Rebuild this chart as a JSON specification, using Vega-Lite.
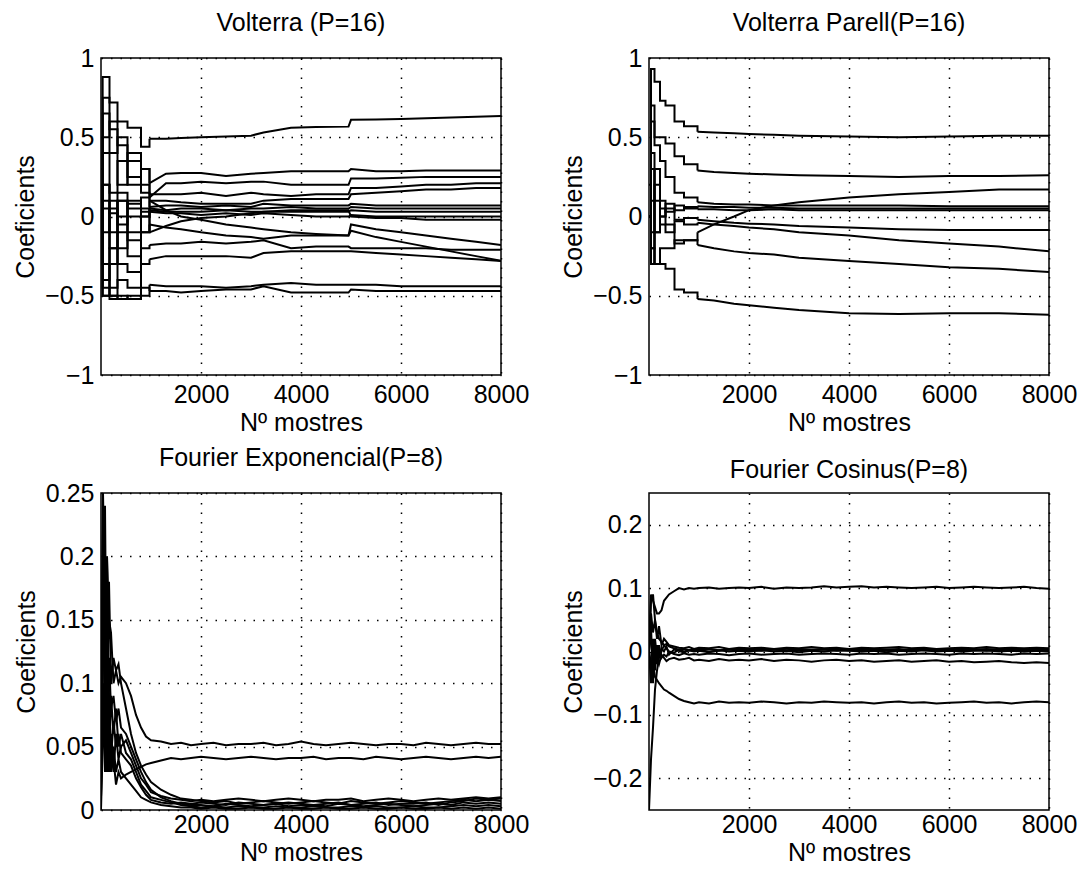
{
"$schema": "https://vega.github.io/schema/vega-lite/v6.json",
"background": "white",
"padding": {"left": 12, "top": 10, "right": 0, "bottom": 0},
"config": {
  "font": "Liberation Sans",
  "view": {"stroke": "black", "strokeWidth": 1.5},
  "axis": {"labelFontSize": 25, "titleFontSize": 25, "labelColor": "black", "titleColor": "black", "titleFontWeight": "normal", "domain": false, "ticks": false, "grid": true, "gridColor": "black", "gridDash": [1.5, 8], "gridWidth": 1.5, "gridOpacity": 1, "labelPadding": 7, "labelFlush": false, "labelOverlap": false},
  "axisY": {"titlePadding": 6},
  "axisX": {"titlePadding": 3},
  "title": {"fontSize": 25, "fontWeight": "normal", "color": "black", "offset": 10},
  "line": {"color": "black", "strokeWidth": 2}
},
"datasets": {
"tl": [
{"s":"a","x":0,"y":0.30},{"s":"a","x":33,"y":0.88},{"s":"a","x":170,"y":0.72},{"s":"a","x":330,"y":0.60},{"s":"a","x":530,"y":0.56},{"s":"a","x":800,"y":0.44},{"s":"a","x":970,"y":0.49},{"s":"a","x":1300,"y":0.49},{"s":"a","x":1600,"y":0.495},{"s":"a","x":2000,"y":0.50},{"s":"a","x":2500,"y":0.505},{"s":"a","x":3000,"y":0.51},{"s":"a","x":3250,"y":0.53},{"s":"a","x":3800,"y":0.56},{"s":"a","x":4300,"y":0.565},{"s":"a","x":4950,"y":0.567},{"s":"a","x":5000,"y":0.61},{"s":"a","x":5500,"y":0.612},{"s":"a","x":6000,"y":0.615},{"s":"a","x":6500,"y":0.62},{"s":"a","x":7000,"y":0.625},{"s":"a","x":7500,"y":0.63},{"s":"a","x":8000,"y":0.634},
{"s":"b","x":0,"y":0.0},{"s":"b","x":33,"y":0.65},{"s":"b","x":170,"y":0.55},{"s":"b","x":330,"y":0.45},{"s":"b","x":530,"y":0.35},{"s":"b","x":800,"y":0.30},{"s":"b","x":970,"y":0.21},{"s":"b","x":1300,"y":0.27},{"s":"b","x":1600,"y":0.275},{"s":"b","x":2000,"y":0.275},{"s":"b","x":2500,"y":0.255},{"s":"b","x":3000,"y":0.27},{"s":"b","x":3250,"y":0.275},{"s":"b","x":3800,"y":0.285},{"s":"b","x":4300,"y":0.285},{"s":"b","x":4950,"y":0.285},{"s":"b","x":5000,"y":0.30},{"s":"b","x":5500,"y":0.285},{"s":"b","x":6000,"y":0.285},{"s":"b","x":6500,"y":0.29},{"s":"b","x":7000,"y":0.29},{"s":"b","x":7500,"y":0.29},{"s":"b","x":8000,"y":0.29},
{"s":"c","x":0,"y":0.10},{"s":"c","x":33,"y":0.75},{"s":"c","x":170,"y":0.40},{"s":"c","x":330,"y":0.50},{"s":"c","x":530,"y":0.25},{"s":"c","x":800,"y":0.20},{"s":"c","x":970,"y":0.12},{"s":"c","x":1300,"y":0.21},{"s":"c","x":1600,"y":0.21},{"s":"c","x":2000,"y":0.22},{"s":"c","x":2500,"y":0.21},{"s":"c","x":3000,"y":0.22},{"s":"c","x":3250,"y":0.22},{"s":"c","x":3800,"y":0.20},{"s":"c","x":4300,"y":0.20},{"s":"c","x":4950,"y":0.20},{"s":"c","x":5000,"y":0.24},{"s":"c","x":5500,"y":0.24},{"s":"c","x":6000,"y":0.245},{"s":"c","x":6500,"y":0.25},{"s":"c","x":7000,"y":0.25},{"s":"c","x":7500,"y":0.25},{"s":"c","x":8000,"y":0.25},
{"s":"d","x":0,"y":0.0},{"s":"d","x":33,"y":0.50},{"s":"d","x":170,"y":0.60},{"s":"d","x":330,"y":0.20},{"s":"d","x":530,"y":0.40},{"s":"d","x":800,"y":0.15},{"s":"d","x":970,"y":0.14},{"s":"d","x":1300,"y":0.14},{"s":"d","x":1600,"y":0.14},{"s":"d","x":2000,"y":0.15},{"s":"d","x":2500,"y":0.13},{"s":"d","x":3000,"y":0.15},{"s":"d","x":3250,"y":0.14},{"s":"d","x":3800,"y":0.13},{"s":"d","x":4300,"y":0.14},{"s":"d","x":4950,"y":0.14},{"s":"d","x":5000,"y":0.18},{"s":"d","x":5500,"y":0.18},{"s":"d","x":6000,"y":0.19},{"s":"d","x":6500,"y":0.20},{"s":"d","x":7000,"y":0.20},{"s":"d","x":7500,"y":0.21},{"s":"d","x":8000,"y":0.21},
{"s":"e","x":0,"y":0.0},{"s":"e","x":33,"y":0.40},{"s":"e","x":170,"y":0.15},{"s":"e","x":330,"y":0.35},{"s":"e","x":530,"y":0.20},{"s":"e","x":800,"y":0.30},{"s":"e","x":970,"y":0.10},{"s":"e","x":1300,"y":0.10},{"s":"e","x":1600,"y":0.09},{"s":"e","x":2000,"y":0.08},{"s":"e","x":2500,"y":0.08},{"s":"e","x":3000,"y":0.08},{"s":"e","x":3250,"y":0.10},{"s":"e","x":3800,"y":0.11},{"s":"e","x":4300,"y":0.11},{"s":"e","x":4950,"y":0.11},{"s":"e","x":5000,"y":0.14},{"s":"e","x":5500,"y":0.15},{"s":"e","x":6000,"y":0.16},{"s":"e","x":6500,"y":0.17},{"s":"e","x":7000,"y":0.17},{"s":"e","x":7500,"y":0.18},{"s":"e","x":8000,"y":0.18},
{"s":"f","x":0,"y":0.0},{"s":"f","x":33,"y":0.20},{"s":"f","x":170,"y":-0.10},{"s":"f","x":330,"y":0.15},{"s":"f","x":530,"y":0.05},{"s":"f","x":800,"y":0.12},{"s":"f","x":970,"y":0.06},{"s":"f","x":1300,"y":0.07},{"s":"f","x":1600,"y":0.07},{"s":"f","x":2000,"y":0.06},{"s":"f","x":2500,"y":0.07},{"s":"f","x":3000,"y":0.06},{"s":"f","x":3250,"y":0.08},{"s":"f","x":3800,"y":0.07},{"s":"f","x":4300,"y":0.07},{"s":"f","x":4950,"y":0.07},{"s":"f","x":5000,"y":0.08},{"s":"f","x":5500,"y":0.07},{"s":"f","x":6000,"y":0.07},{"s":"f","x":6500,"y":0.07},{"s":"f","x":7000,"y":0.07},{"s":"f","x":7500,"y":0.07},{"s":"f","x":8000,"y":0.07},
{"s":"g","x":0,"y":0.0},{"s":"g","x":33,"y":-0.10},{"s":"g","x":170,"y":0.05},{"s":"g","x":330,"y":0.0},{"s":"g","x":530,"y":0.10},{"s":"g","x":800,"y":0.03},{"s":"g","x":970,"y":0.05},{"s":"g","x":1300,"y":0.04},{"s":"g","x":1600,"y":0.05},{"s":"g","x":2000,"y":0.05},{"s":"g","x":2500,"y":0.04},{"s":"g","x":3000,"y":0.05},{"s":"g","x":3250,"y":0.05},{"s":"g","x":3800,"y":0.06},{"s":"g","x":4300,"y":0.05},{"s":"g","x":4950,"y":0.05},{"s":"g","x":5000,"y":0.06},{"s":"g","x":5500,"y":0.05},{"s":"g","x":6000,"y":0.05},{"s":"g","x":6500,"y":0.05},{"s":"g","x":7000,"y":0.05},{"s":"g","x":7500,"y":0.05},{"s":"g","x":8000,"y":0.05},
{"s":"h","x":0,"y":0.0},{"s":"h","x":33,"y":0.10},{"s":"h","x":170,"y":0.02},{"s":"h","x":330,"y":-0.05},{"s":"h","x":530,"y":0.08},{"s":"h","x":800,"y":0.0},{"s":"h","x":970,"y":0.04},{"s":"h","x":1300,"y":0.03},{"s":"h","x":1600,"y":0.03},{"s":"h","x":2000,"y":0.03},{"s":"h","x":2500,"y":0.04},{"s":"h","x":3000,"y":0.03},{"s":"h","x":3250,"y":0.03},{"s":"h","x":3800,"y":0.03},{"s":"h","x":4300,"y":0.03},{"s":"h","x":4950,"y":0.03},{"s":"h","x":5000,"y":0.04},{"s":"h","x":5500,"y":0.03},{"s":"h","x":6000,"y":0.03},{"s":"h","x":6500,"y":0.03},{"s":"h","x":7000,"y":0.03},{"s":"h","x":7500,"y":0.03},{"s":"h","x":8000,"y":0.03},
{"s":"i","x":0,"y":0.0},{"s":"i","x":33,"y":-0.30},{"s":"i","x":170,"y":0.10},{"s":"i","x":330,"y":-0.20},{"s":"i","x":530,"y":0.0},{"s":"i","x":800,"y":-0.10},{"s":"i","x":970,"y":0.03},{"s":"i","x":1300,"y":0.02},{"s":"i","x":1600,"y":0.02},{"s":"i","x":2000,"y":0.01},{"s":"i","x":2500,"y":0.02},{"s":"i","x":3000,"y":0.01},{"s":"i","x":3250,"y":0.02},{"s":"i","x":3800,"y":0.01},{"s":"i","x":4300,"y":0.0},{"s":"i","x":4950,"y":0.0},{"s":"i","x":5000,"y":0.01},{"s":"i","x":5500,"y":0.0},{"s":"i","x":6000,"y":0.0},{"s":"i","x":6500,"y":0.0},{"s":"i","x":7000,"y":0.0},{"s":"i","x":7500,"y":0.0},{"s":"i","x":8000,"y":0.0},
{"s":"j","x":0,"y":0.0},{"s":"j","x":33,"y":0.05},{"s":"j","x":170,"y":-0.20},{"s":"j","x":330,"y":0.10},{"s":"j","x":530,"y":-0.10},{"s":"j","x":800,"y":0.05},{"s":"j","x":970,"y":-0.10},{"s":"j","x":1300,"y":-0.06},{"s":"j","x":1600,"y":-0.03},{"s":"j","x":2000,"y":-0.01},{"s":"j","x":2500,"y":0.0},{"s":"j","x":3000,"y":0.02},{"s":"j","x":3250,"y":0.03},{"s":"j","x":3800,"y":0.04},{"s":"j","x":4300,"y":0.04},{"s":"j","x":4950,"y":0.04},{"s":"j","x":5000,"y":0.0},{"s":"j","x":5500,"y":-0.01},{"s":"j","x":6000,"y":-0.01},{"s":"j","x":6500,"y":-0.02},{"s":"j","x":7000,"y":-0.02},{"s":"j","x":7500,"y":-0.02},{"s":"j","x":8000,"y":-0.02},
{"s":"k","x":0,"y":0.0},{"s":"k","x":33,"y":-0.40},{"s":"k","x":170,"y":-0.30},{"s":"k","x":330,"y":0.10},{"s":"k","x":530,"y":-0.15},{"s":"k","x":800,"y":0.0},{"s":"k","x":970,"y":0.10},{"s":"k","x":1300,"y":0.04},{"s":"k","x":1600,"y":0.0},{"s":"k","x":2000,"y":-0.02},{"s":"k","x":2500,"y":-0.05},{"s":"k","x":3000,"y":-0.07},{"s":"k","x":3250,"y":-0.08},{"s":"k","x":3800,"y":-0.10},{"s":"k","x":4300,"y":-0.11},{"s":"k","x":4950,"y":-0.12},{"s":"k","x":5000,"y":-0.05},{"s":"k","x":5500,"y":-0.08},{"s":"k","x":6000,"y":-0.10},{"s":"k","x":6500,"y":-0.12},{"s":"k","x":7000,"y":-0.14},{"s":"k","x":7500,"y":-0.16},{"s":"k","x":8000,"y":-0.18},
{"s":"l","x":0,"y":0.0},{"s":"l","x":33,"y":-0.50},{"s":"l","x":170,"y":-0.20},{"s":"l","x":330,"y":-0.30},{"s":"l","x":530,"y":-0.35},{"s":"l","x":800,"y":-0.10},{"s":"l","x":970,"y":-0.05},{"s":"l","x":1300,"y":-0.07},{"s":"l","x":1600,"y":-0.08},{"s":"l","x":2000,"y":-0.10},{"s":"l","x":2500,"y":-0.12},{"s":"l","x":3000,"y":-0.13},{"s":"l","x":3250,"y":-0.14},{"s":"l","x":3800,"y":-0.12},{"s":"l","x":4300,"y":-0.12},{"s":"l","x":4950,"y":-0.12},{"s":"l","x":5000,"y":-0.09},{"s":"l","x":5500,"y":-0.13},{"s":"l","x":6000,"y":-0.16},{"s":"l","x":6500,"y":-0.19},{"s":"l","x":7000,"y":-0.22},{"s":"l","x":7500,"y":-0.25},{"s":"l","x":8000,"y":-0.28},
{"s":"m","x":0,"y":0.0},{"s":"m","x":33,"y":0.20},{"s":"m","x":170,"y":-0.45},{"s":"m","x":330,"y":-0.10},{"s":"m","x":530,"y":-0.25},{"s":"m","x":800,"y":-0.20},{"s":"m","x":970,"y":-0.18},{"s":"m","x":1300,"y":-0.17},{"s":"m","x":1600,"y":-0.17},{"s":"m","x":2000,"y":-0.16},{"s":"m","x":2500,"y":-0.17},{"s":"m","x":3000,"y":-0.16},{"s":"m","x":3250,"y":-0.15},{"s":"m","x":3800,"y":-0.20},{"s":"m","x":4300,"y":-0.19},{"s":"m","x":4950,"y":-0.19},{"s":"m","x":5000,"y":-0.20},{"s":"m","x":5500,"y":-0.20},{"s":"m","x":6000,"y":-0.20},{"s":"m","x":6500,"y":-0.20},{"s":"m","x":7000,"y":-0.21},{"s":"m","x":7500,"y":-0.21},{"s":"m","x":8000,"y":-0.21},
{"s":"n","x":0,"y":0.0},{"s":"n","x":33,"y":-0.45},{"s":"n","x":170,"y":-0.50},{"s":"n","x":330,"y":-0.40},{"s":"n","x":530,"y":-0.45},{"s":"n","x":800,"y":-0.30},{"s":"n","x":970,"y":-0.27},{"s":"n","x":1300,"y":-0.25},{"s":"n","x":1600,"y":-0.25},{"s":"n","x":2000,"y":-0.25},{"s":"n","x":2500,"y":-0.25},{"s":"n","x":3000,"y":-0.26},{"s":"n","x":3250,"y":-0.23},{"s":"n","x":3800,"y":-0.22},{"s":"n","x":4300,"y":-0.22},{"s":"n","x":4950,"y":-0.22},{"s":"n","x":5000,"y":-0.22},{"s":"n","x":5500,"y":-0.23},{"s":"n","x":6000,"y":-0.24},{"s":"n","x":6500,"y":-0.25},{"s":"n","x":7000,"y":-0.26},{"s":"n","x":7500,"y":-0.27},{"s":"n","x":8000,"y":-0.28},
{"s":"o","x":0,"y":0.0},{"s":"o","x":33,"y":-0.50},{"s":"o","x":170,"y":-0.50},{"s":"o","x":330,"y":-0.52},{"s":"o","x":530,"y":-0.50},{"s":"o","x":800,"y":-0.50},{"s":"o","x":970,"y":-0.43},{"s":"o","x":1300,"y":-0.44},{"s":"o","x":1600,"y":-0.44},{"s":"o","x":2000,"y":-0.44},{"s":"o","x":2500,"y":-0.45},{"s":"o","x":3000,"y":-0.44},{"s":"o","x":3250,"y":-0.43},{"s":"o","x":3800,"y":-0.42},{"s":"o","x":4300,"y":-0.43},{"s":"o","x":4950,"y":-0.43},{"s":"o","x":5000,"y":-0.43},{"s":"o","x":5500,"y":-0.43},{"s":"o","x":6000,"y":-0.44},{"s":"o","x":6500,"y":-0.44},{"s":"o","x":7000,"y":-0.44},{"s":"o","x":7500,"y":-0.44},{"s":"o","x":8000,"y":-0.44},
{"s":"p","x":0,"y":0.0},{"s":"p","x":33,"y":-0.30},{"s":"p","x":170,"y":-0.52},{"s":"p","x":330,"y":-0.50},{"s":"p","x":530,"y":-0.52},{"s":"p","x":800,"y":-0.45},{"s":"p","x":970,"y":-0.47},{"s":"p","x":1300,"y":-0.47},{"s":"p","x":1600,"y":-0.48},{"s":"p","x":2000,"y":-0.47},{"s":"p","x":2500,"y":-0.46},{"s":"p","x":3000,"y":-0.46},{"s":"p","x":3250,"y":-0.44},{"s":"p","x":3800,"y":-0.48},{"s":"p","x":4300,"y":-0.48},{"s":"p","x":4950,"y":-0.48},{"s":"p","x":5000,"y":-0.46},{"s":"p","x":5500,"y":-0.47},{"s":"p","x":6000,"y":-0.47},{"s":"p","x":6500,"y":-0.47},{"s":"p","x":7000,"y":-0.47},{"s":"p","x":7500,"y":-0.47},{"s":"p","x":8000,"y":-0.47}
],
"tr": [
{"s":"t1","x":0,"y":0.2},{"s":"t1","x":40,"y":0.93},{"s":"t1","x":110,"y":0.85},{"s":"t1","x":220,"y":0.73},{"s":"t1","x":330,"y":0.70},{"s":"t1","x":510,"y":0.60},{"s":"t1","x":700,"y":0.57},{"s":"t1","x":970,"y":0.535},{"s":"t1","x":1300,"y":0.53},{"s":"t1","x":1700,"y":0.525},{"s":"t1","x":2000,"y":0.52},{"s":"t1","x":2500,"y":0.515},{"s":"t1","x":3000,"y":0.51},{"s":"t1","x":4000,"y":0.505},{"s":"t1","x":5000,"y":0.50},{"s":"t1","x":6000,"y":0.505},{"s":"t1","x":7000,"y":0.51},{"s":"t1","x":8000,"y":0.51},
{"s":"t2","x":0,"y":0.0},{"s":"t2","x":40,"y":0.7},{"s":"t2","x":110,"y":0.5},{"s":"t2","x":220,"y":0.5},{"s":"t2","x":330,"y":0.46},{"s":"t2","x":510,"y":0.38},{"s":"t2","x":700,"y":0.33},{"s":"t2","x":970,"y":0.29},{"s":"t2","x":1300,"y":0.28},{"s":"t2","x":1700,"y":0.275},{"s":"t2","x":2000,"y":0.27},{"s":"t2","x":2500,"y":0.265},{"s":"t2","x":3000,"y":0.26},{"s":"t2","x":4000,"y":0.255},{"s":"t2","x":5000,"y":0.25},{"s":"t2","x":6000,"y":0.255},{"s":"t2","x":7000,"y":0.255},{"s":"t2","x":8000,"y":0.26},
{"s":"t3","x":0,"y":0.0},{"s":"t3","x":40,"y":0.6},{"s":"t3","x":110,"y":0.45},{"s":"t3","x":220,"y":0.35},{"s":"t3","x":330,"y":0.25},{"s":"t3","x":510,"y":0.15},{"s":"t3","x":700,"y":0.12},{"s":"t3","x":970,"y":0.09},{"s":"t3","x":1300,"y":0.08},{"s":"t3","x":1700,"y":0.075},{"s":"t3","x":2000,"y":0.075},{"s":"t3","x":2500,"y":0.07},{"s":"t3","x":3000,"y":0.07},{"s":"t3","x":4000,"y":0.07},{"s":"t3","x":5000,"y":0.07},{"s":"t3","x":6000,"y":0.065},{"s":"t3","x":7000,"y":0.065},{"s":"t3","x":8000,"y":0.065},
{"s":"t4","x":0,"y":0.0},{"s":"t4","x":40,"y":-0.1},{"s":"t4","x":110,"y":0.3},{"s":"t4","x":220,"y":0.05},{"s":"t4","x":330,"y":-0.05},{"s":"t4","x":510,"y":-0.17},{"s":"t4","x":700,"y":-0.15},{"s":"t4","x":970,"y":-0.1},{"s":"t4","x":1300,"y":-0.05},{"s":"t4","x":1700,"y":0.0},{"s":"t4","x":2000,"y":0.04},{"s":"t4","x":2500,"y":0.07},{"s":"t4","x":3000,"y":0.09},{"s":"t4","x":4000,"y":0.12},{"s":"t4","x":5000,"y":0.14},{"s":"t4","x":6000,"y":0.155},{"s":"t4","x":7000,"y":0.17},{"s":"t4","x":8000,"y":0.17},
{"s":"t5","x":0,"y":0.0},{"s":"t5","x":40,"y":0.4},{"s":"t5","x":110,"y":-0.1},{"s":"t5","x":220,"y":0.1},{"s":"t5","x":330,"y":0.03},{"s":"t5","x":510,"y":0.07},{"s":"t5","x":700,"y":0.06},{"s":"t5","x":970,"y":0.065},{"s":"t5","x":1300,"y":0.06},{"s":"t5","x":1700,"y":0.06},{"s":"t5","x":2000,"y":0.055},{"s":"t5","x":2500,"y":0.055},{"s":"t5","x":3000,"y":0.05},{"s":"t5","x":4000,"y":0.05},{"s":"t5","x":5000,"y":0.05},{"s":"t5","x":6000,"y":0.05},{"s":"t5","x":7000,"y":0.05},{"s":"t5","x":8000,"y":0.05},
{"s":"t6","x":0,"y":0.0},{"s":"t6","x":40,"y":-0.2},{"s":"t6","x":110,"y":0.2},{"s":"t6","x":220,"y":0.0},{"s":"t6","x":330,"y":0.08},{"s":"t6","x":510,"y":0.04},{"s":"t6","x":700,"y":0.05},{"s":"t6","x":970,"y":0.045},{"s":"t6","x":1300,"y":0.045},{"s":"t6","x":1700,"y":0.04},{"s":"t6","x":2000,"y":0.04},{"s":"t6","x":2500,"y":0.045},{"s":"t6","x":3000,"y":0.04},{"s":"t6","x":4000,"y":0.04},{"s":"t6","x":5000,"y":0.04},{"s":"t6","x":6000,"y":0.04},{"s":"t6","x":7000,"y":0.04},{"s":"t6","x":8000,"y":0.04},
{"s":"t7","x":0,"y":0.0},{"s":"t7","x":40,"y":0.3},{"s":"t7","x":110,"y":0.1},{"s":"t7","x":220,"y":0.0},{"s":"t7","x":330,"y":0.05},{"s":"t7","x":510,"y":-0.02},{"s":"t7","x":700,"y":-0.01},{"s":"t7","x":970,"y":-0.02},{"s":"t7","x":1300,"y":-0.03},{"s":"t7","x":1700,"y":-0.04},{"s":"t7","x":2000,"y":-0.045},{"s":"t7","x":2500,"y":-0.05},{"s":"t7","x":3000,"y":-0.06},{"s":"t7","x":4000,"y":-0.07},{"s":"t7","x":5000,"y":-0.08},{"s":"t7","x":6000,"y":-0.085},{"s":"t7","x":7000,"y":-0.085},{"s":"t7","x":8000,"y":-0.085},
{"s":"t8","x":0,"y":0.0},{"s":"t8","x":40,"y":-0.3},{"s":"t8","x":110,"y":-0.1},{"s":"t8","x":220,"y":-0.05},{"s":"t8","x":330,"y":-0.1},{"s":"t8","x":510,"y":-0.03},{"s":"t8","x":700,"y":-0.05},{"s":"t8","x":970,"y":-0.04},{"s":"t8","x":1300,"y":-0.05},{"s":"t8","x":1700,"y":-0.06},{"s":"t8","x":2000,"y":-0.07},{"s":"t8","x":2500,"y":-0.08},{"s":"t8","x":3000,"y":-0.1},{"s":"t8","x":4000,"y":-0.12},{"s":"t8","x":5000,"y":-0.15},{"s":"t8","x":6000,"y":-0.17},{"s":"t8","x":7000,"y":-0.19},{"s":"t8","x":8000,"y":-0.22},
{"s":"t9","x":0,"y":0.0},{"s":"t9","x":40,"y":0.1},{"s":"t9","x":110,"y":-0.3},{"s":"t9","x":220,"y":-0.2},{"s":"t9","x":330,"y":-0.2},{"s":"t9","x":510,"y":-0.15},{"s":"t9","x":700,"y":-0.15},{"s":"t9","x":970,"y":-0.18},{"s":"t9","x":1300,"y":-0.2},{"s":"t9","x":1700,"y":-0.22},{"s":"t9","x":2000,"y":-0.23},{"s":"t9","x":2500,"y":-0.24},{"s":"t9","x":3000,"y":-0.26},{"s":"t9","x":4000,"y":-0.28},{"s":"t9","x":5000,"y":-0.3},{"s":"t9","x":6000,"y":-0.32},{"s":"t9","x":7000,"y":-0.33},{"s":"t9","x":8000,"y":-0.35},
{"s":"t10","x":0,"y":0.0},{"s":"t10","x":40,"y":-0.2},{"s":"t10","x":110,"y":-0.3},{"s":"t10","x":220,"y":-0.3},{"s":"t10","x":330,"y":-0.33},{"s":"t10","x":510,"y":-0.46},{"s":"t10","x":700,"y":-0.48},{"s":"t10","x":970,"y":-0.52},{"s":"t10","x":1300,"y":-0.53},{"s":"t10","x":1700,"y":-0.55},{"s":"t10","x":2000,"y":-0.56},{"s":"t10","x":2500,"y":-0.575},{"s":"t10","x":3000,"y":-0.59},{"s":"t10","x":4000,"y":-0.61},{"s":"t10","x":5000,"y":-0.615},{"s":"t10","x":6000,"y":-0.61},{"s":"t10","x":7000,"y":-0.61},{"s":"t10","x":8000,"y":-0.62}
],
"bl": [
{"s":"e1","x":0,"y":0.02},{"s":"e1","x":40,"y":0.25},{"s":"e1","x":80,"y":0.12},{"s":"e1","x":120,"y":0.2},{"s":"e1","x":160,"y":0.15},{"s":"e1","x":200,"y":0.14},{"s":"e1","x":250,"y":0.1},{"s":"e1","x":300,"y":0.11},{"s":"e1","x":350,"y":0.1},{"s":"e1","x":400,"y":0.105},{"s":"e1","x":500,"y":0.1},{"s":"e1","x":600,"y":0.09},{"s":"e1","x":700,"y":0.075},{"s":"e1","x":800,"y":0.065},{"s":"e1","x":900,"y":0.058},{"s":"e1","x":1000,"y":0.055},{"s":"e1","x":1200,"y":0.054},{"s":"e1","x":1400,"y":0.052},{"s":"e1","x":1600,"y":0.053},{"s":"e1","x":1800,"y":0.051},{"s":"e1","x":2000,"y":0.052},{"s":"e1","x":2250,"y":0.053},{"s":"e1","x":2500,"y":0.051},{"s":"e1","x":2750,"y":0.052},{"s":"e1","x":3000,"y":0.052},{"s":"e1","x":3250,"y":0.053},{"s":"e1","x":3500,"y":0.051},{"s":"e1","x":3750,"y":0.052},{"s":"e1","x":4000,"y":0.054},{"s":"e1","x":4250,"y":0.052},{"s":"e1","x":4500,"y":0.051},{"s":"e1","x":4750,"y":0.052},{"s":"e1","x":5000,"y":0.053},{"s":"e1","x":5250,"y":0.052},{"s":"e1","x":5500,"y":0.051},{"s":"e1","x":5750,"y":0.052},{"s":"e1","x":6000,"y":0.052},{"s":"e1","x":6250,"y":0.051},{"s":"e1","x":6500,"y":0.053},{"s":"e1","x":6750,"y":0.052},{"s":"e1","x":7000,"y":0.051},{"s":"e1","x":7250,"y":0.052},{"s":"e1","x":7500,"y":0.053},{"s":"e1","x":7750,"y":0.052},{"s":"e1","x":8000,"y":0.052},
{"s":"e2","x":0,"y":0.0},{"s":"e2","x":40,"y":0.2},{"s":"e2","x":80,"y":0.05},{"s":"e2","x":120,"y":0.1},{"s":"e2","x":160,"y":0.03},{"s":"e2","x":200,"y":0.06},{"s":"e2","x":250,"y":0.04},{"s":"e2","x":300,"y":0.02},{"s":"e2","x":350,"y":0.03},{"s":"e2","x":400,"y":0.025},{"s":"e2","x":500,"y":0.028},{"s":"e2","x":600,"y":0.03},{"s":"e2","x":700,"y":0.032},{"s":"e2","x":800,"y":0.034},{"s":"e2","x":900,"y":0.036},{"s":"e2","x":1000,"y":0.037},{"s":"e2","x":1200,"y":0.039},{"s":"e2","x":1400,"y":0.041},{"s":"e2","x":1600,"y":0.04},{"s":"e2","x":1800,"y":0.041},{"s":"e2","x":2000,"y":0.042},{"s":"e2","x":2250,"y":0.041},{"s":"e2","x":2500,"y":0.04},{"s":"e2","x":2750,"y":0.041},{"s":"e2","x":3000,"y":0.042},{"s":"e2","x":3250,"y":0.041},{"s":"e2","x":3500,"y":0.04},{"s":"e2","x":3750,"y":0.041},{"s":"e2","x":4000,"y":0.041},{"s":"e2","x":4250,"y":0.042},{"s":"e2","x":4500,"y":0.04},{"s":"e2","x":4750,"y":0.041},{"s":"e2","x":5000,"y":0.041},{"s":"e2","x":5250,"y":0.04},{"s":"e2","x":5500,"y":0.042},{"s":"e2","x":5750,"y":0.041},{"s":"e2","x":6000,"y":0.04},{"s":"e2","x":6250,"y":0.041},{"s":"e2","x":6500,"y":0.042},{"s":"e2","x":6750,"y":0.041},{"s":"e2","x":7000,"y":0.04},{"s":"e2","x":7250,"y":0.041},{"s":"e2","x":7500,"y":0.042},{"s":"e2","x":7750,"y":0.041},{"s":"e2","x":8000,"y":0.042},
{"s":"e3","x":0,"y":0.05},{"s":"e3","x":40,"y":0.22},{"s":"e3","x":80,"y":0.15},{"s":"e3","x":120,"y":0.08},{"s":"e3","x":160,"y":0.18},{"s":"e3","x":200,"y":0.1},{"s":"e3","x":250,"y":0.12},{"s":"e3","x":300,"y":0.11},{"s":"e3","x":350,"y":0.115},{"s":"e3","x":400,"y":0.1},{"s":"e3","x":500,"y":0.08},{"s":"e3","x":600,"y":0.06},{"s":"e3","x":700,"y":0.045},{"s":"e3","x":800,"y":0.035},{"s":"e3","x":900,"y":0.028},{"s":"e3","x":1000,"y":0.022},{"s":"e3","x":1200,"y":0.016},{"s":"e3","x":1400,"y":0.012},{"s":"e3","x":1600,"y":0.009},{"s":"e3","x":1800,"y":0.008},{"s":"e3","x":2000,"y":0.007},{"s":"e3","x":2250,"y":0.006},{"s":"e3","x":2500,"y":0.007},{"s":"e3","x":2750,"y":0.005},{"s":"e3","x":3000,"y":0.006},{"s":"e3","x":3250,"y":0.007},{"s":"e3","x":3500,"y":0.006},{"s":"e3","x":3750,"y":0.005},{"s":"e3","x":4000,"y":0.006},{"s":"e3","x":4250,"y":0.007},{"s":"e3","x":4500,"y":0.006},{"s":"e3","x":4750,"y":0.005},{"s":"e3","x":5000,"y":0.007},{"s":"e3","x":5250,"y":0.006},{"s":"e3","x":5500,"y":0.005},{"s":"e3","x":5750,"y":0.006},{"s":"e3","x":6000,"y":0.007},{"s":"e3","x":6250,"y":0.006},{"s":"e3","x":6500,"y":0.005},{"s":"e3","x":6750,"y":0.006},{"s":"e3","x":7000,"y":0.007},{"s":"e3","x":7250,"y":0.008},{"s":"e3","x":7500,"y":0.007},{"s":"e3","x":7750,"y":0.008},{"s":"e3","x":8000,"y":0.007},
{"s":"e4","x":0,"y":0.03},{"s":"e4","x":40,"y":0.15},{"s":"e4","x":80,"y":0.24},{"s":"e4","x":120,"y":0.05},{"s":"e4","x":160,"y":0.12},{"s":"e4","x":200,"y":0.08},{"s":"e4","x":250,"y":0.09},{"s":"e4","x":300,"y":0.07},{"s":"e4","x":350,"y":0.08},{"s":"e4","x":400,"y":0.065},{"s":"e4","x":500,"y":0.06},{"s":"e4","x":600,"y":0.05},{"s":"e4","x":700,"y":0.04},{"s":"e4","x":800,"y":0.03},{"s":"e4","x":900,"y":0.022},{"s":"e4","x":1000,"y":0.016},{"s":"e4","x":1200,"y":0.01},{"s":"e4","x":1400,"y":0.007},{"s":"e4","x":1600,"y":0.005},{"s":"e4","x":1800,"y":0.004},{"s":"e4","x":2000,"y":0.004},{"s":"e4","x":2250,"y":0.003},{"s":"e4","x":2500,"y":0.005},{"s":"e4","x":2750,"y":0.004},{"s":"e4","x":3000,"y":0.003},{"s":"e4","x":3250,"y":0.004},{"s":"e4","x":3500,"y":0.005},{"s":"e4","x":3750,"y":0.003},{"s":"e4","x":4000,"y":0.004},{"s":"e4","x":4250,"y":0.004},{"s":"e4","x":4500,"y":0.003},{"s":"e4","x":4750,"y":0.005},{"s":"e4","x":5000,"y":0.004},{"s":"e4","x":5250,"y":0.003},{"s":"e4","x":5500,"y":0.004},{"s":"e4","x":5750,"y":0.005},{"s":"e4","x":6000,"y":0.004},{"s":"e4","x":6250,"y":0.003},{"s":"e4","x":6500,"y":0.004},{"s":"e4","x":6750,"y":0.005},{"s":"e4","x":7000,"y":0.004},{"s":"e4","x":7250,"y":0.006},{"s":"e4","x":7500,"y":0.005},{"s":"e4","x":7750,"y":0.006},{"s":"e4","x":8000,"y":0.005},
{"s":"e5","x":0,"y":0.0},{"s":"e5","x":40,"y":0.1},{"s":"e5","x":80,"y":0.06},{"s":"e5","x":120,"y":0.2},{"s":"e5","x":160,"y":0.04},{"s":"e5","x":200,"y":0.09},{"s":"e5","x":250,"y":0.06},{"s":"e5","x":300,"y":0.08},{"s":"e5","x":350,"y":0.05},{"s":"e5","x":400,"y":0.06},{"s":"e5","x":500,"y":0.045},{"s":"e5","x":600,"y":0.04},{"s":"e5","x":700,"y":0.03},{"s":"e5","x":800,"y":0.02},{"s":"e5","x":900,"y":0.015},{"s":"e5","x":1000,"y":0.01},{"s":"e5","x":1200,"y":0.008},{"s":"e5","x":1400,"y":0.006},{"s":"e5","x":1600,"y":0.004},{"s":"e5","x":1800,"y":0.003},{"s":"e5","x":2000,"y":0.002},{"s":"e5","x":2250,"y":0.003},{"s":"e5","x":2500,"y":0.002},{"s":"e5","x":2750,"y":0.003},{"s":"e5","x":3000,"y":0.002},{"s":"e5","x":3250,"y":0.002},{"s":"e5","x":3500,"y":0.003},{"s":"e5","x":3750,"y":0.002},{"s":"e5","x":4000,"y":0.002},{"s":"e5","x":4250,"y":0.003},{"s":"e5","x":4500,"y":0.002},{"s":"e5","x":4750,"y":0.002},{"s":"e5","x":5000,"y":0.003},{"s":"e5","x":5250,"y":0.002},{"s":"e5","x":5500,"y":0.003},{"s":"e5","x":5750,"y":0.002},{"s":"e5","x":6000,"y":0.002},{"s":"e5","x":6250,"y":0.003},{"s":"e5","x":6500,"y":0.002},{"s":"e5","x":6750,"y":0.002},{"s":"e5","x":7000,"y":0.003},{"s":"e5","x":7250,"y":0.004},{"s":"e5","x":7500,"y":0.003},{"s":"e5","x":7750,"y":0.004},{"s":"e5","x":8000,"y":0.003},
{"s":"e6","x":0,"y":0.04},{"s":"e6","x":40,"y":0.18},{"s":"e6","x":80,"y":0.08},{"s":"e6","x":120,"y":0.13},{"s":"e6","x":160,"y":0.06},{"s":"e6","x":200,"y":0.04},{"s":"e6","x":250,"y":0.07},{"s":"e6","x":300,"y":0.05},{"s":"e6","x":350,"y":0.06},{"s":"e6","x":400,"y":0.045},{"s":"e6","x":500,"y":0.04},{"s":"e6","x":600,"y":0.035},{"s":"e6","x":700,"y":0.025},{"s":"e6","x":800,"y":0.018},{"s":"e6","x":900,"y":0.012},{"s":"e6","x":1000,"y":0.008},{"s":"e6","x":1200,"y":0.006},{"s":"e6","x":1400,"y":0.005},{"s":"e6","x":1600,"y":0.006},{"s":"e6","x":1800,"y":0.005},{"s":"e6","x":2000,"y":0.006},{"s":"e6","x":2250,"y":0.005},{"s":"e6","x":2500,"y":0.004},{"s":"e6","x":2750,"y":0.006},{"s":"e6","x":3000,"y":0.005},{"s":"e6","x":3250,"y":0.004},{"s":"e6","x":3500,"y":0.005},{"s":"e6","x":3750,"y":0.006},{"s":"e6","x":4000,"y":0.005},{"s":"e6","x":4250,"y":0.004},{"s":"e6","x":4500,"y":0.005},{"s":"e6","x":4750,"y":0.006},{"s":"e6","x":5000,"y":0.004},{"s":"e6","x":5250,"y":0.005},{"s":"e6","x":5500,"y":0.006},{"s":"e6","x":5750,"y":0.004},{"s":"e6","x":6000,"y":0.005},{"s":"e6","x":6250,"y":0.005},{"s":"e6","x":6500,"y":0.006},{"s":"e6","x":6750,"y":0.004},{"s":"e6","x":7000,"y":0.006},{"s":"e6","x":7250,"y":0.007},{"s":"e6","x":7500,"y":0.009},{"s":"e6","x":7750,"y":0.008},{"s":"e6","x":8000,"y":0.009},
{"s":"e7","x":0,"y":0.01},{"s":"e7","x":40,"y":0.05},{"s":"e7","x":80,"y":0.1},{"s":"e7","x":120,"y":0.03},{"s":"e7","x":160,"y":0.07},{"s":"e7","x":200,"y":0.03},{"s":"e7","x":250,"y":0.05},{"s":"e7","x":300,"y":0.03},{"s":"e7","x":350,"y":0.04},{"s":"e7","x":400,"y":0.03},{"s":"e7","x":500,"y":0.025},{"s":"e7","x":600,"y":0.02},{"s":"e7","x":700,"y":0.015},{"s":"e7","x":800,"y":0.01},{"s":"e7","x":900,"y":0.008},{"s":"e7","x":1000,"y":0.006},{"s":"e7","x":1200,"y":0.004},{"s":"e7","x":1400,"y":0.003},{"s":"e7","x":1600,"y":0.002},{"s":"e7","x":1800,"y":0.002},{"s":"e7","x":2000,"y":0.001},{"s":"e7","x":2250,"y":0.002},{"s":"e7","x":2500,"y":0.001},{"s":"e7","x":2750,"y":0.001},{"s":"e7","x":3000,"y":0.002},{"s":"e7","x":3250,"y":0.001},{"s":"e7","x":3500,"y":0.001},{"s":"e7","x":3750,"y":0.002},{"s":"e7","x":4000,"y":0.001},{"s":"e7","x":4250,"y":0.001},{"s":"e7","x":4500,"y":0.002},{"s":"e7","x":4750,"y":0.001},{"s":"e7","x":5000,"y":0.001},{"s":"e7","x":5250,"y":0.002},{"s":"e7","x":5500,"y":0.001},{"s":"e7","x":5750,"y":0.001},{"s":"e7","x":6000,"y":0.002},{"s":"e7","x":6250,"y":0.001},{"s":"e7","x":6500,"y":0.001},{"s":"e7","x":6750,"y":0.002},{"s":"e7","x":7000,"y":0.001},{"s":"e7","x":7250,"y":0.002},{"s":"e7","x":7500,"y":0.001},{"s":"e7","x":7750,"y":0.002},{"s":"e7","x":8000,"y":0.001},
{"s":"e8","x":0,"y":0.0},{"s":"e8","x":40,"y":0.25},{"s":"e8","x":80,"y":0.03},{"s":"e8","x":120,"y":0.16},{"s":"e8","x":160,"y":0.09},{"s":"e8","x":200,"y":0.05},{"s":"e8","x":250,"y":0.03},{"s":"e8","x":300,"y":0.06},{"s":"e8","x":350,"y":0.04},{"s":"e8","x":400,"y":0.05},{"s":"e8","x":500,"y":0.055},{"s":"e8","x":600,"y":0.045},{"s":"e8","x":700,"y":0.035},{"s":"e8","x":800,"y":0.025},{"s":"e8","x":900,"y":0.02},{"s":"e8","x":1000,"y":0.014},{"s":"e8","x":1200,"y":0.011},{"s":"e8","x":1400,"y":0.009},{"s":"e8","x":1600,"y":0.008},{"s":"e8","x":1800,"y":0.007},{"s":"e8","x":2000,"y":0.008},{"s":"e8","x":2250,"y":0.007},{"s":"e8","x":2500,"y":0.008},{"s":"e8","x":2750,"y":0.009},{"s":"e8","x":3000,"y":0.008},{"s":"e8","x":3250,"y":0.007},{"s":"e8","x":3500,"y":0.008},{"s":"e8","x":3750,"y":0.009},{"s":"e8","x":4000,"y":0.008},{"s":"e8","x":4250,"y":0.007},{"s":"e8","x":4500,"y":0.008},{"s":"e8","x":4750,"y":0.008},{"s":"e8","x":5000,"y":0.009},{"s":"e8","x":5250,"y":0.007},{"s":"e8","x":5500,"y":0.008},{"s":"e8","x":5750,"y":0.009},{"s":"e8","x":6000,"y":0.008},{"s":"e8","x":6250,"y":0.007},{"s":"e8","x":6500,"y":0.008},{"s":"e8","x":6750,"y":0.009},{"s":"e8","x":7000,"y":0.008},{"s":"e8","x":7250,"y":0.009},{"s":"e8","x":7500,"y":0.01},{"s":"e8","x":7750,"y":0.009},{"s":"e8","x":8000,"y":0.01}
],
"br": [
{"s":"c1","x":0,"y":0.0},{"s":"c1","x":40,"y":0.09},{"s":"c1","x":80,"y":0.08},{"s":"c1","x":120,"y":0.07},{"s":"c1","x":160,"y":0.06},{"s":"c1","x":200,"y":0.06},{"s":"c1","x":250,"y":0.065},{"s":"c1","x":300,"y":0.08},{"s":"c1","x":350,"y":0.085},{"s":"c1","x":400,"y":0.09},{"s":"c1","x":500,"y":0.095},{"s":"c1","x":600,"y":0.1},{"s":"c1","x":700,"y":0.098},{"s":"c1","x":800,"y":0.1},{"s":"c1","x":900,"y":0.099},{"s":"c1","x":1000,"y":0.1},{"s":"c1","x":1200,"y":0.101},{"s":"c1","x":1400,"y":0.099},{"s":"c1","x":1600,"y":0.1},{"s":"c1","x":1800,"y":0.101},{"s":"c1","x":2000,"y":0.1},{"s":"c1","x":2250,"y":0.102},{"s":"c1","x":2500,"y":0.099},{"s":"c1","x":2750,"y":0.101},{"s":"c1","x":3000,"y":0.1},{"s":"c1","x":3250,"y":0.101},{"s":"c1","x":3500,"y":0.103},{"s":"c1","x":3750,"y":0.101},{"s":"c1","x":4000,"y":0.102},{"s":"c1","x":4250,"y":0.103},{"s":"c1","x":4500,"y":0.101},{"s":"c1","x":4750,"y":0.102},{"s":"c1","x":5000,"y":0.101},{"s":"c1","x":5250,"y":0.1},{"s":"c1","x":5500,"y":0.101},{"s":"c1","x":5750,"y":0.102},{"s":"c1","x":6000,"y":0.1},{"s":"c1","x":6250,"y":0.101},{"s":"c1","x":6500,"y":0.102},{"s":"c1","x":6750,"y":0.101},{"s":"c1","x":7000,"y":0.1},{"s":"c1","x":7250,"y":0.101},{"s":"c1","x":7500,"y":0.102},{"s":"c1","x":7750,"y":0.1},{"s":"c1","x":8000,"y":0.099},
{"s":"c2","x":0,"y":0.0},{"s":"c2","x":40,"y":0.06},{"s":"c2","x":80,"y":0.03},{"s":"c2","x":120,"y":0.05},{"s":"c2","x":160,"y":0.02},{"s":"c2","x":200,"y":0.04},{"s":"c2","x":250,"y":0.01},{"s":"c2","x":300,"y":0.02},{"s":"c2","x":350,"y":0.015},{"s":"c2","x":400,"y":0.01},{"s":"c2","x":500,"y":0.008},{"s":"c2","x":600,"y":0.006},{"s":"c2","x":700,"y":0.005},{"s":"c2","x":800,"y":0.007},{"s":"c2","x":900,"y":0.004},{"s":"c2","x":1000,"y":0.006},{"s":"c2","x":1200,"y":0.005},{"s":"c2","x":1400,"y":0.007},{"s":"c2","x":1600,"y":0.004},{"s":"c2","x":1800,"y":0.006},{"s":"c2","x":2000,"y":0.005},{"s":"c2","x":2250,"y":0.006},{"s":"c2","x":2500,"y":0.004},{"s":"c2","x":2750,"y":0.006},{"s":"c2","x":3000,"y":0.005},{"s":"c2","x":3250,"y":0.007},{"s":"c2","x":3500,"y":0.005},{"s":"c2","x":3750,"y":0.006},{"s":"c2","x":4000,"y":0.004},{"s":"c2","x":4250,"y":0.006},{"s":"c2","x":4500,"y":0.005},{"s":"c2","x":4750,"y":0.006},{"s":"c2","x":5000,"y":0.007},{"s":"c2","x":5250,"y":0.005},{"s":"c2","x":5500,"y":0.006},{"s":"c2","x":5750,"y":0.004},{"s":"c2","x":6000,"y":0.005},{"s":"c2","x":6250,"y":0.006},{"s":"c2","x":6500,"y":0.005},{"s":"c2","x":6750,"y":0.007},{"s":"c2","x":7000,"y":0.005},{"s":"c2","x":7250,"y":0.006},{"s":"c2","x":7500,"y":0.005},{"s":"c2","x":7750,"y":0.006},{"s":"c2","x":8000,"y":0.005},
{"s":"c3","x":0,"y":0.0},{"s":"c3","x":40,"y":-0.05},{"s":"c3","x":80,"y":0.02},{"s":"c3","x":120,"y":-0.03},{"s":"c3","x":160,"y":0.01},{"s":"c3","x":200,"y":-0.01},{"s":"c3","x":250,"y":0.005},{"s":"c3","x":300,"y":0.0},{"s":"c3","x":350,"y":0.008},{"s":"c3","x":400,"y":-0.005},{"s":"c3","x":500,"y":0.003},{"s":"c3","x":600,"y":0.001},{"s":"c3","x":700,"y":-0.002},{"s":"c3","x":800,"y":0.002},{"s":"c3","x":900,"y":0.0},{"s":"c3","x":1000,"y":0.001},{"s":"c3","x":1200,"y":-0.001},{"s":"c3","x":1400,"y":0.002},{"s":"c3","x":1600,"y":0.0},{"s":"c3","x":1800,"y":0.001},{"s":"c3","x":2000,"y":0.0},{"s":"c3","x":2250,"y":0.002},{"s":"c3","x":2500,"y":0.0},{"s":"c3","x":2750,"y":0.001},{"s":"c3","x":3000,"y":-0.001},{"s":"c3","x":3250,"y":0.001},{"s":"c3","x":3500,"y":0.0},{"s":"c3","x":3750,"y":0.002},{"s":"c3","x":4000,"y":0.001},{"s":"c3","x":4250,"y":0.0},{"s":"c3","x":4500,"y":0.001},{"s":"c3","x":4750,"y":-0.001},{"s":"c3","x":5000,"y":0.001},{"s":"c3","x":5250,"y":0.0},{"s":"c3","x":5500,"y":0.002},{"s":"c3","x":5750,"y":0.0},{"s":"c3","x":6000,"y":0.001},{"s":"c3","x":6250,"y":0.0},{"s":"c3","x":6500,"y":0.001},{"s":"c3","x":6750,"y":0.002},{"s":"c3","x":7000,"y":0.0},{"s":"c3","x":7250,"y":0.001},{"s":"c3","x":7500,"y":0.0},{"s":"c3","x":7750,"y":0.001},{"s":"c3","x":8000,"y":0.0},
{"s":"c4","x":0,"y":0.0},{"s":"c4","x":40,"y":0.04},{"s":"c4","x":80,"y":-0.05},{"s":"c4","x":120,"y":0.0},{"s":"c4","x":160,"y":-0.02},{"s":"c4","x":200,"y":0.01},{"s":"c4","x":250,"y":-0.01},{"s":"c4","x":300,"y":-0.005},{"s":"c4","x":350,"y":-0.008},{"s":"c4","x":400,"y":0.0},{"s":"c4","x":500,"y":-0.004},{"s":"c4","x":600,"y":-0.006},{"s":"c4","x":700,"y":-0.003},{"s":"c4","x":800,"y":-0.005},{"s":"c4","x":900,"y":-0.004},{"s":"c4","x":1000,"y":-0.005},{"s":"c4","x":1200,"y":-0.003},{"s":"c4","x":1400,"y":-0.004},{"s":"c4","x":1600,"y":-0.006},{"s":"c4","x":1800,"y":-0.004},{"s":"c4","x":2000,"y":-0.003},{"s":"c4","x":2250,"y":-0.005},{"s":"c4","x":2500,"y":-0.004},{"s":"c4","x":2750,"y":-0.003},{"s":"c4","x":3000,"y":-0.005},{"s":"c4","x":3250,"y":-0.004},{"s":"c4","x":3500,"y":-0.003},{"s":"c4","x":3750,"y":-0.004},{"s":"c4","x":4000,"y":-0.005},{"s":"c4","x":4250,"y":-0.003},{"s":"c4","x":4500,"y":-0.004},{"s":"c4","x":4750,"y":-0.003},{"s":"c4","x":5000,"y":-0.005},{"s":"c4","x":5250,"y":-0.004},{"s":"c4","x":5500,"y":-0.003},{"s":"c4","x":5750,"y":-0.004},{"s":"c4","x":6000,"y":-0.005},{"s":"c4","x":6250,"y":-0.003},{"s":"c4","x":6500,"y":-0.004},{"s":"c4","x":6750,"y":-0.003},{"s":"c4","x":7000,"y":-0.004},{"s":"c4","x":7250,"y":-0.005},{"s":"c4","x":7500,"y":-0.003},{"s":"c4","x":7750,"y":-0.004},{"s":"c4","x":8000,"y":-0.003},
{"s":"c5","x":0,"y":0.0},{"s":"c5","x":40,"y":-0.02},{"s":"c5","x":80,"y":-0.04},{"s":"c5","x":120,"y":0.02},{"s":"c5","x":160,"y":-0.01},{"s":"c5","x":200,"y":-0.02},{"s":"c5","x":250,"y":-0.005},{"s":"c5","x":300,"y":-0.01},{"s":"c5","x":350,"y":-0.015},{"s":"c5","x":400,"y":-0.012},{"s":"c5","x":500,"y":-0.01},{"s":"c5","x":600,"y":-0.013},{"s":"c5","x":700,"y":-0.012},{"s":"c5","x":800,"y":-0.01},{"s":"c5","x":900,"y":-0.014},{"s":"c5","x":1000,"y":-0.013},{"s":"c5","x":1200,"y":-0.015},{"s":"c5","x":1400,"y":-0.012},{"s":"c5","x":1600,"y":-0.014},{"s":"c5","x":1800,"y":-0.013},{"s":"c5","x":2000,"y":-0.014},{"s":"c5","x":2250,"y":-0.012},{"s":"c5","x":2500,"y":-0.015},{"s":"c5","x":2750,"y":-0.013},{"s":"c5","x":3000,"y":-0.014},{"s":"c5","x":3250,"y":-0.016},{"s":"c5","x":3500,"y":-0.014},{"s":"c5","x":3750,"y":-0.013},{"s":"c5","x":4000,"y":-0.015},{"s":"c5","x":4250,"y":-0.014},{"s":"c5","x":4500,"y":-0.016},{"s":"c5","x":4750,"y":-0.015},{"s":"c5","x":5000,"y":-0.014},{"s":"c5","x":5250,"y":-0.016},{"s":"c5","x":5500,"y":-0.015},{"s":"c5","x":5750,"y":-0.014},{"s":"c5","x":6000,"y":-0.016},{"s":"c5","x":6250,"y":-0.015},{"s":"c5","x":6500,"y":-0.017},{"s":"c5","x":6750,"y":-0.016},{"s":"c5","x":7000,"y":-0.015},{"s":"c5","x":7250,"y":-0.017},{"s":"c5","x":7500,"y":-0.018},{"s":"c5","x":7750,"y":-0.017},{"s":"c5","x":8000,"y":-0.018},
{"s":"c6","x":0,"y":0.0},{"s":"c6","x":40,"y":-0.03},{"s":"c6","x":80,"y":-0.02},{"s":"c6","x":120,"y":-0.04},{"s":"c6","x":160,"y":-0.045},{"s":"c6","x":200,"y":-0.05},{"s":"c6","x":250,"y":-0.055},{"s":"c6","x":300,"y":-0.06},{"s":"c6","x":350,"y":-0.062},{"s":"c6","x":400,"y":-0.065},{"s":"c6","x":500,"y":-0.07},{"s":"c6","x":600,"y":-0.075},{"s":"c6","x":700,"y":-0.078},{"s":"c6","x":800,"y":-0.08},{"s":"c6","x":900,"y":-0.082},{"s":"c6","x":1000,"y":-0.08},{"s":"c6","x":1200,"y":-0.082},{"s":"c6","x":1400,"y":-0.079},{"s":"c6","x":1600,"y":-0.081},{"s":"c6","x":1800,"y":-0.08},{"s":"c6","x":2000,"y":-0.081},{"s":"c6","x":2250,"y":-0.079},{"s":"c6","x":2500,"y":-0.08},{"s":"c6","x":2750,"y":-0.082},{"s":"c6","x":3000,"y":-0.08},{"s":"c6","x":3250,"y":-0.081},{"s":"c6","x":3500,"y":-0.079},{"s":"c6","x":3750,"y":-0.08},{"s":"c6","x":4000,"y":-0.081},{"s":"c6","x":4250,"y":-0.08},{"s":"c6","x":4500,"y":-0.082},{"s":"c6","x":4750,"y":-0.08},{"s":"c6","x":5000,"y":-0.079},{"s":"c6","x":5250,"y":-0.081},{"s":"c6","x":5500,"y":-0.08},{"s":"c6","x":5750,"y":-0.082},{"s":"c6","x":6000,"y":-0.081},{"s":"c6","x":6250,"y":-0.08},{"s":"c6","x":6500,"y":-0.079},{"s":"c6","x":6750,"y":-0.081},{"s":"c6","x":7000,"y":-0.08},{"s":"c6","x":7250,"y":-0.082},{"s":"c6","x":7500,"y":-0.08},{"s":"c6","x":7750,"y":-0.079},{"s":"c6","x":8000,"y":-0.08},
{"s":"c7","x":0,"y":-0.25},{"s":"c7","x":40,"y":-0.17},{"s":"c7","x":80,"y":-0.12},{"s":"c7","x":120,"y":-0.06},{"s":"c7","x":160,"y":-0.03},{"s":"c7","x":200,"y":-0.01},{"s":"c7","x":250,"y":0.0},{"s":"c7","x":300,"y":0.01},{"s":"c7","x":350,"y":0.005},{"s":"c7","x":400,"y":0.0},{"s":"c7","x":500,"y":-0.002},{"s":"c7","x":600,"y":0.003},{"s":"c7","x":700,"y":0.0},{"s":"c7","x":800,"y":0.002},{"s":"c7","x":900,"y":0.001},{"s":"c7","x":1000,"y":0.002},{"s":"c7","x":1200,"y":0.0},{"s":"c7","x":1400,"y":0.001},{"s":"c7","x":1600,"y":0.003},{"s":"c7","x":1800,"y":0.001},{"s":"c7","x":2000,"y":0.002},{"s":"c7","x":2250,"y":0.001},{"s":"c7","x":2500,"y":0.003},{"s":"c7","x":2750,"y":0.002},{"s":"c7","x":3000,"y":0.001},{"s":"c7","x":3250,"y":0.002},{"s":"c7","x":3500,"y":0.003},{"s":"c7","x":3750,"y":0.001},{"s":"c7","x":4000,"y":0.002},{"s":"c7","x":4250,"y":0.002},{"s":"c7","x":4500,"y":0.003},{"s":"c7","x":4750,"y":0.001},{"s":"c7","x":5000,"y":0.002},{"s":"c7","x":5250,"y":0.003},{"s":"c7","x":5500,"y":0.002},{"s":"c7","x":5750,"y":0.001},{"s":"c7","x":6000,"y":0.002},{"s":"c7","x":6250,"y":0.003},{"s":"c7","x":6500,"y":0.002},{"s":"c7","x":6750,"y":0.001},{"s":"c7","x":7000,"y":0.002},{"s":"c7","x":7250,"y":0.003},{"s":"c7","x":7500,"y":0.002},{"s":"c7","x":7750,"y":0.001},{"s":"c7","x":8000,"y":0.002},
{"s":"c8","x":0,"y":0.0},{"s":"c8","x":40,"y":0.08},{"s":"c8","x":80,"y":0.09},{"s":"c8","x":120,"y":0.05},{"s":"c8","x":160,"y":0.03},{"s":"c8","x":200,"y":0.02},{"s":"c8","x":250,"y":0.015},{"s":"c8","x":300,"y":0.01},{"s":"c8","x":350,"y":0.012},{"s":"c8","x":400,"y":0.008},{"s":"c8","x":500,"y":0.005},{"s":"c8","x":600,"y":0.003},{"s":"c8","x":700,"y":0.004},{"s":"c8","x":800,"y":0.002},{"s":"c8","x":900,"y":0.003},{"s":"c8","x":1000,"y":0.003},{"s":"c8","x":1200,"y":0.004},{"s":"c8","x":1400,"y":0.002},{"s":"c8","x":1600,"y":0.003},{"s":"c8","x":1800,"y":0.004},{"s":"c8","x":2000,"y":0.003},{"s":"c8","x":2250,"y":0.004},{"s":"c8","x":2500,"y":0.003},{"s":"c8","x":2750,"y":0.002},{"s":"c8","x":3000,"y":0.004},{"s":"c8","x":3250,"y":0.003},{"s":"c8","x":3500,"y":0.004},{"s":"c8","x":3750,"y":0.003},{"s":"c8","x":4000,"y":0.002},{"s":"c8","x":4250,"y":0.004},{"s":"c8","x":4500,"y":0.003},{"s":"c8","x":4750,"y":0.003},{"s":"c8","x":5000,"y":0.004},{"s":"c8","x":5250,"y":0.002},{"s":"c8","x":5500,"y":0.003},{"s":"c8","x":5750,"y":0.004},{"s":"c8","x":6000,"y":0.003},{"s":"c8","x":6250,"y":0.002},{"s":"c8","x":6500,"y":0.003},{"s":"c8","x":6750,"y":0.004},{"s":"c8","x":7000,"y":0.003},{"s":"c8","x":7250,"y":0.002},{"s":"c8","x":7500,"y":0.003},{"s":"c8","x":7750,"y":0.004},{"s":"c8","x":8000,"y":0.003}
]
},
"columns": 2,
"spacing": {"row": 118, "column": 148},
"bounds": "flush",
"concat": [
{
 "title": "Volterra (P=16)",
 "width": 400, "height": 317,
 "data": {"name": "tl"},
 "encoding": {
  "x": {"field": "x", "type": "quantitative", "scale": {"domain": [0, 8000], "nice": false}, "axis": {"values": [2000, 4000, 6000, 8000], "format": "d", "title": "Nº mostres"}},
  "y": {"field": "y", "type": "quantitative", "scale": {"domain": [-1, 1], "nice": false, "zero": false}, "axis": {"values": [-1, -0.5, 0, 0.5, 1], "format": "~g", "title": "Coeficients"}},
  "detail": {"field": "s", "type": "nominal"}
 },
 "layer": [
  {"transform": [{"filter": "datum.x <= 970"}], "mark": {"type": "line", "interpolate": "step-after", "clip": true}},
  {"transform": [{"filter": "datum.x >= 970"}], "mark": {"type": "line", "clip": true}}
 ]
},
{
 "title": "Volterra Parell(P=16)",
 "width": 400, "height": 317,
 "data": {"name": "tr"},
 "encoding": {
  "x": {"field": "x", "type": "quantitative", "scale": {"domain": [0, 8000], "nice": false}, "axis": {"values": [2000, 4000, 6000, 8000], "format": "d", "title": "Nº mostres"}},
  "y": {"field": "y", "type": "quantitative", "scale": {"domain": [-1, 1], "nice": false, "zero": false}, "axis": {"values": [-1, -0.5, 0, 0.5, 1], "format": "~g", "title": "Coeficients"}},
  "detail": {"field": "s", "type": "nominal"}
 },
 "layer": [
  {"transform": [{"filter": "datum.x <= 970"}], "mark": {"type": "line", "interpolate": "step-after", "clip": true}},
  {"transform": [{"filter": "datum.x >= 970"}], "mark": {"type": "line", "clip": true}}
 ]
},
{
 "title": "Fourier Exponencial(P=8)",
 "width": 400, "height": 317,
 "data": {"name": "bl"},
 "mark": {"type": "line", "clip": true},
 "encoding": {
  "x": {"field": "x", "type": "quantitative", "scale": {"domain": [0, 8000], "nice": false}, "axis": {"values": [2000, 4000, 6000, 8000], "format": "d", "title": "Nº mostres", "labelPadding": 2, "titlePadding": 3}},
  "y": {"field": "y", "type": "quantitative", "scale": {"domain": [0, 0.25], "nice": false}, "axis": {"values": [0, 0.05, 0.1, 0.15, 0.2, 0.25], "format": "~g", "title": "Coeficients"}},
  "detail": {"field": "s", "type": "nominal"}
 }
},
{
 "title": "Fourier Cosinus(P=8)",
 "width": 400, "height": 317,
 "data": {"name": "br"},
 "mark": {"type": "line", "clip": true},
 "encoding": {
  "x": {"field": "x", "type": "quantitative", "scale": {"domain": [0, 8000], "nice": false}, "axis": {"values": [2000, 4000, 6000, 8000], "format": "d", "title": "Nº mostres", "labelPadding": 2, "titlePadding": 3}},
  "y": {"field": "y", "type": "quantitative", "scale": {"domain": [-0.25, 0.25], "nice": false, "zero": false}, "axis": {"values": [-0.2, -0.1, 0, 0.1, 0.2], "format": "~g", "title": "Coeficients"}},
  "detail": {"field": "s", "type": "nominal"}
 }
}
]
}
